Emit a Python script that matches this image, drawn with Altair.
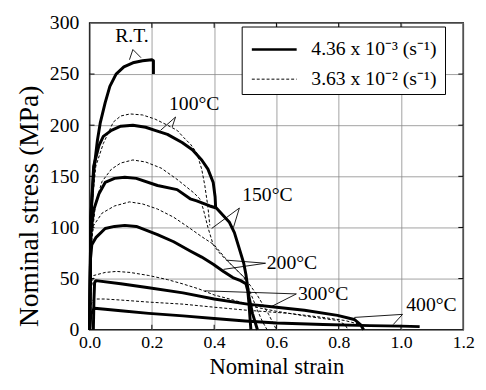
import altair as alt
import pandas as pd

FONT = "'Liberation Serif', 'Times New Roman', serif"

# ---- tick values ----
x_ticks = [0.0, 0.2, 0.4, 0.6, 0.8, 1.0, 1.2]
y_ticks = [0, 50, 100, 150, 200, 250, 300]

# ---- curves (strain, stress) ----
rt_s_x = [0, 0.004, 0.013, 0.025, 0.034, 0.05, 0.065, 0.085, 0.11, 0.139, 0.17, 0.2, 0.205, 0.205]
rt_s_y = [0, 110, 154, 185, 202, 222, 238, 250, 257, 261, 263, 264, 263, 250]

t100_s_x = [0, 0.004, 0.013, 0.03, 0.044, 0.07, 0.1, 0.139, 0.18, 0.21, 0.25, 0.297, 0.33, 0.36, 0.38, 0.397, 0.403, 0.405]
t100_s_y = [0, 110, 160, 180, 189, 195, 199, 200, 198, 195, 191, 183, 176, 166, 157, 144, 130, 118]
t100_d_x = [0, 0.007, 0.02, 0.044, 0.076, 0.1, 0.13, 0.17, 0.21, 0.25, 0.281, 0.302, 0.325, 0.344, 0.36, 0.37, 0.38, 0.386]
t100_d_y = [0, 120, 160, 182, 203, 209, 211, 210, 206, 200, 195, 188, 181, 173, 157, 141, 120, 102]

t150_s_x = [0, 0.004, 0.013, 0.03, 0.05, 0.08, 0.113, 0.15, 0.218, 0.281, 0.323, 0.344, 0.386, 0.407, 0.449, 0.465, 0.48, 0.495, 0.502, 0.512, 0.523, 0.539]
t150_s_y = [0, 95, 117, 133, 144, 148, 149, 148, 141, 137, 128, 126, 121, 119, 105, 95, 80, 65, 54, 32, 16, 0]
t150_d_x = [0, 0.007, 0.02, 0.04, 0.07, 0.1, 0.139, 0.18, 0.23, 0.281, 0.334, 0.354, 0.365, 0.38, 0.397, 0.42, 0.45, 0.5, 0.54, 0.575, 0.6]
t150_d_y = [0, 90, 125, 145, 157, 163, 166, 164, 158, 147, 134, 128, 118, 100, 83, 74, 65, 50, 33, 15, 0]

t200_s_x = [0, 0.003, 0.007, 0.02, 0.05, 0.08, 0.113, 0.15, 0.218, 0.27, 0.323, 0.36, 0.397, 0.43, 0.46, 0.485, 0.502, 0.508, 0.512, 0.515, 0.518]
t200_s_y = [0, 70, 83, 90, 99, 101, 102, 101, 93, 86, 77, 71, 64, 57, 51, 48, 45, 38, 25, 12, 0]
t200_d_x = [0, 0.005, 0.013, 0.04, 0.08, 0.128, 0.17, 0.218, 0.27, 0.323, 0.36, 0.40, 0.444, 0.497, 0.518, 0.539, 0.555, 0.57]
t200_d_y = [0, 85, 102, 114, 121, 125, 123, 118, 110, 99, 91, 83, 67, 51, 35, 19, 8, 0]

t300_s_x = [0.012, 0.014, 0.016, 0.02, 0.1, 0.19, 0.3, 0.4, 0.507, 0.6, 0.69, 0.796, 0.85, 0.87, 0.88]
t300_s_y = [0, 30, 46, 48, 45, 41, 36, 30, 25, 22, 19, 14, 10, 5, 0]
t300_d_x = [0, 0.005, 0.013, 0.05, 0.086, 0.13, 0.19, 0.25, 0.297, 0.35, 0.40, 0.45, 0.507, 0.534, 0.6, 0.7, 0.796, 0.82, 0.83]
t300_d_y = [0, 40, 53, 56, 57, 56, 53, 49, 45, 40, 34, 30, 25, 22, 18, 13, 9, 5, 0]

t400_s_x = [0, 0.004, 0.015, 0.05, 0.1, 0.19, 0.3, 0.4, 0.5, 0.6, 0.75, 0.9, 1.0, 1.06]
t400_s_y = [0, 15, 21, 20, 18.5, 16, 13.5, 11, 8.5, 6.5, 5, 4, 3.5, 3]
t400_d_x = [0, 0.005, 0.013, 0.05, 0.1, 0.19, 0.3, 0.4, 0.507, 0.64, 0.75, 0.82, 0.87, 0.88]
t400_d_y = [0, 25, 30, 30, 29, 27, 25, 22, 19, 16, 12, 9, 5, 0]

solid_curves = {"RT": (rt_s_x, rt_s_y), "100": (t100_s_x, t100_s_y), "150": (t150_s_x, t150_s_y),
                "200": (t200_s_x, t200_s_y), "300": (t300_s_x, t300_s_y), "400": (t400_s_x, t400_s_y)}
dashed_curves = {"100": (t100_d_x, t100_d_y), "150": (t150_d_x, t150_d_y), "200": (t200_d_x, t200_d_y),
                 "300": (t300_d_x, t300_d_y), "400": (t400_d_x, t400_d_y)}

# ---- annotation labels and leader lines ----
label_text = ["R.T.", "100°C", "150°C", "200°C", "300°C", "400°C"]
label_x = [0.136, 0.255, 0.49, 0.569, 0.669, 1.017]
label_y = [287, 221, 132, 65, 35, 24]
label_align = ["center", "left", "left", "left", "left", "left"]

lead_x1 = [0.139, 0.139, 0.276, 0.276, 0.481, 0.481, 0.565, 0.565, 0.664, 0.664, 1.005, 1.005]
lead_y1 = [274, 274, 208, 208, 119, 119, 65, 65, 35, 35, 15, 15]
lead_x2 = [0.128, 0.165, 0.228, 0.265, 0.392, 0.462, 0.44, 0.43, 0.37, 0.586, 0.85, 0.975]
lead_y2 = [264, 266, 195, 198, 99, 100, 68, 59, 38, 23, 12, 5]

# ---- legend ----
legend_labels = ["4.36 x 10⁻³ (s⁻¹)", "3.63 x 10⁻² (s⁻¹)"]
legend_box_x = [0.49, 1.143]
legend_box_y = [230, 296]
legend_rows_y = [274, 245]
legend_line_x = [0.521, 0.665]
legend_text_x = 0.712


def to_df(curves, style):
    rows = []
    for name, (xs_, ys_) in curves.items():
        for i, (a, b) in enumerate(zip(xs_, ys_)):
            rows.append({"curve": name + style, "i": i, "strain": a, "stress": b})
    return pd.DataFrame(rows)


solid_df = to_df(solid_curves, "s")
dashed_df = to_df(dashed_curves, "d")
labels_df = pd.DataFrame({"t": label_text, "strain": label_x, "stress": label_y, "al": label_align})
lead_df = pd.DataFrame({"strain": lead_x1, "stress": lead_y1, "strain2": lead_x2, "stress2": lead_y2})
box_df = pd.DataFrame({"strain": [legend_box_x[0]], "strain2": [legend_box_x[1]],
                       "stress": [legend_box_y[0]], "stress2": [legend_box_y[1]]})
leg_solid = pd.DataFrame({"strain": legend_line_x, "stress": [legend_rows_y[0]] * 2})
leg_dash = pd.DataFrame({"strain": legend_line_x, "stress": [legend_rows_y[1]] * 2})
leg_text = pd.DataFrame({"t": legend_labels, "strain": [legend_text_x] * 2, "stress": legend_rows_y})
ytick_df = pd.DataFrame({"stress": y_ticks[1:-1]})
xtick_df = pd.DataFrame({"strain": x_ticks[1:-1]})

xs = alt.Scale(domain=[0, 1.2], nice=False, zero=False)
ys = alt.Scale(domain=[0, 300], nice=False, zero=False)

x_axis = alt.Axis(values=x_ticks, format=".1f", title="Nominal strain", grid=True, ticks=False, tickSize=0,
                  domain=False, labelFont=FONT, labelFontSize=18, labelColor="black", labelPadding=4,
                  titleFont=FONT, titleFontSize=23, titleFontWeight="normal", titleColor="black",
                  titleBaseline="alphabetic", titleY=45, labelFlush=False,
                  gridColor="#8a8a8a", gridWidth=0.8)
y_axis = alt.Axis(values=y_ticks, title="Nominal stress (MPa)", grid=True, ticks=False, tickSize=0,
                  domain=False, labelFont=FONT, labelFontSize=20, labelColor="black", labelPadding=11,
                  titleFont=FONT, titleFontSize=28, titleFontWeight="normal", titleColor="black",
                  titleAngle=-90, titleBaseline="alphabetic", titleX=-53, titleY=186, titleAlign="center",
                  labelFlush=False, gridColor="#8a8a8a", gridWidth=0.8)


def X():
    return alt.X("strain:Q", scale=xs, axis=x_axis)


def Y():
    return alt.Y("stress:Q", scale=ys, axis=y_axis)


solid = alt.Chart(solid_df).mark_line(color="black", strokeWidth=3, strokeJoin="round", strokeCap="butt").encode(
    x=X(), y=Y(), detail="curve:N", order="i:Q")

dashed = alt.Chart(dashed_df).mark_line(color="black", strokeWidth=1, strokeDash=[3, 2]).encode(
    x=X(), y=Y(), detail="curve:N", order="i:Q")

leads = alt.Chart(lead_df).mark_rule(color="black", strokeWidth=0.9).encode(
    x=X(), y=Y(), x2="strain2:Q", y2="stress2:Q")

labels_left = alt.Chart(labels_df[labels_df.al == "left"]).mark_text(
    font=FONT, fontSize=20, align="left", baseline="middle", color="black").encode(x=X(), y=Y(), text="t:N")
labels_center = alt.Chart(labels_df[labels_df.al == "center"]).mark_text(
    font=FONT, fontSize=20, align="center", baseline="middle", color="black").encode(x=X(), y=Y(), text="t:N")

box = alt.Chart(box_df).mark_rect(fill="white", stroke="black", strokeWidth=1).encode(
    x=X(), x2="strain2:Q", y=Y(), y2="stress2:Q")
ls = alt.Chart(leg_solid).mark_line(color="black", strokeWidth=2.5).encode(x=X(), y=Y())
ld = alt.Chart(leg_dash).mark_line(color="black", strokeWidth=1, strokeDash=[3, 2]).encode(x=X(), y=Y())
lt = alt.Chart(leg_text).mark_text(font=FONT, fontSize=20, align="left", baseline="middle", color="black").encode(
    x=X(), y=Y(), text="t:N")

tk_left = alt.Chart(ytick_df).mark_rule(color="black", strokeWidth=1).encode(
    y=Y(), x=alt.value(0), x2=alt.value(5))
tk_right = alt.Chart(ytick_df).mark_rule(color="black", strokeWidth=1).encode(
    y=Y(), x=alt.value(375), x2=alt.value(380))
tk_bottom = alt.Chart(xtick_df).mark_rule(color="black", strokeWidth=1).encode(
    x=X(), y=alt.value(312), y2=alt.value(307))
tk_top = alt.Chart(xtick_df).mark_rule(color="black", strokeWidth=1).encode(
    x=X(), y=alt.value(0), y2=alt.value(5))

chart = alt.layer(
    solid, dashed, leads, labels_left, labels_center, tk_left, tk_right, tk_bottom, tk_top, box, ls, ld, lt
).properties(
    width=380, height=312,
    autosize=alt.AutoSizeParams(type="none"),
    padding={"left": 83, "top": 12, "right": 15, "bottom": 50},
    background="white",
).configure_view(
    stroke="black", strokeWidth=1.5
)

chart.save("out.html", embed_options={"renderer": "svg", "actions": False})
